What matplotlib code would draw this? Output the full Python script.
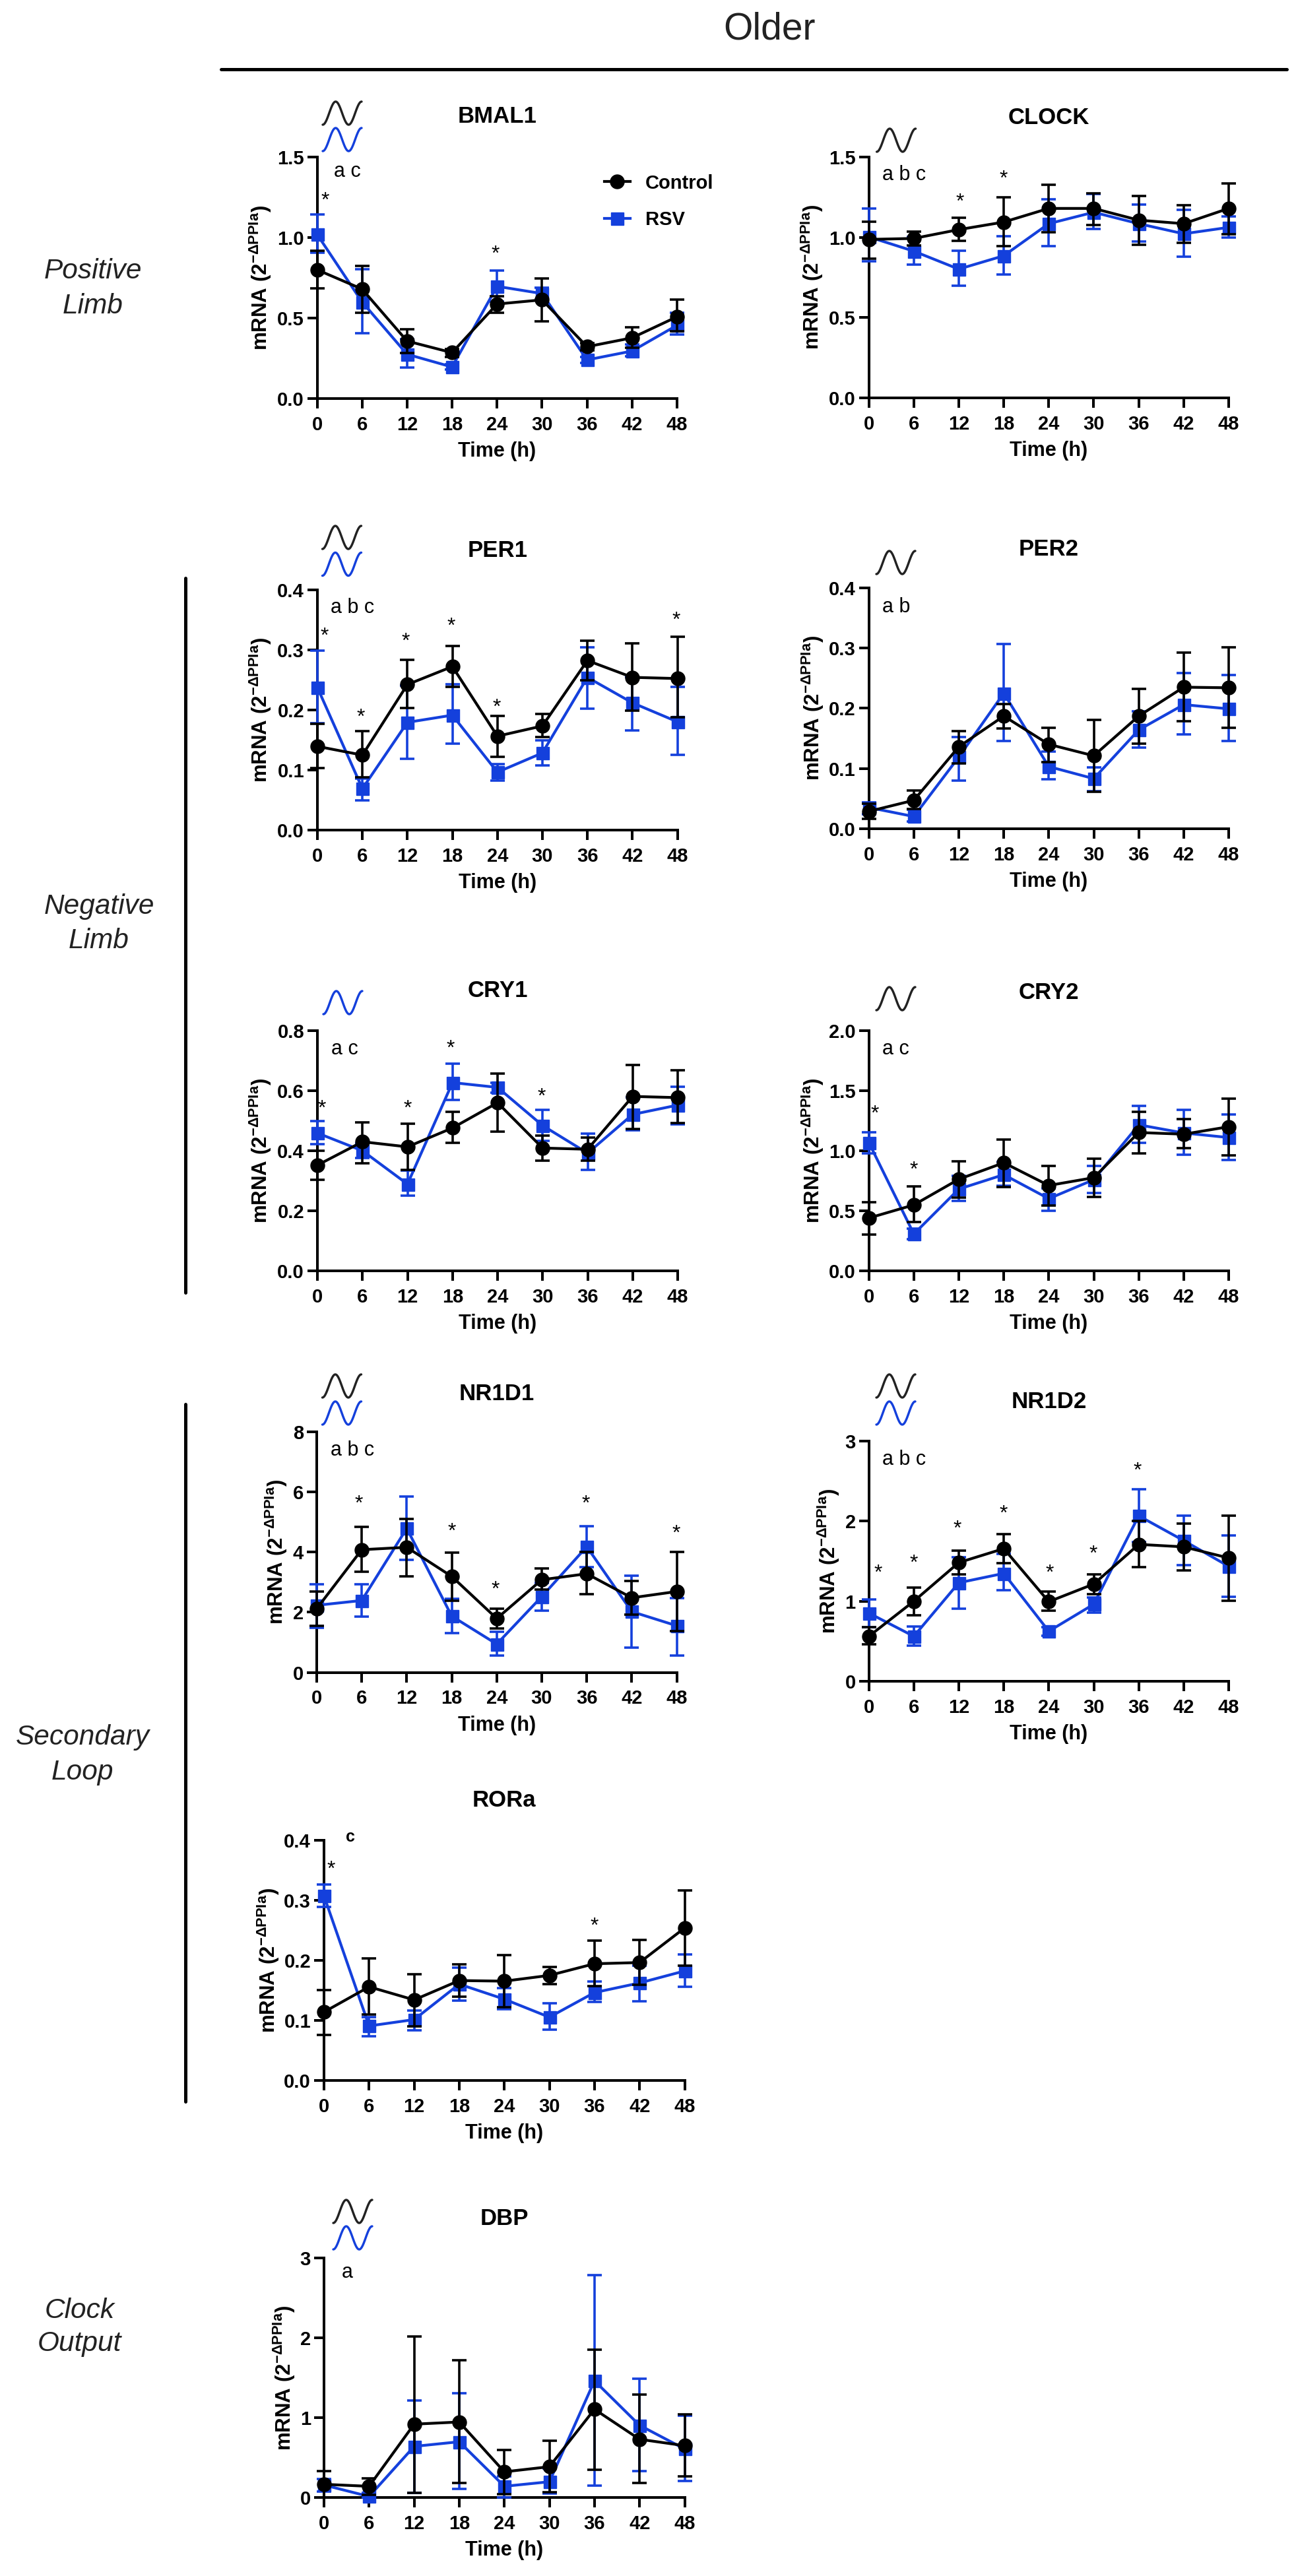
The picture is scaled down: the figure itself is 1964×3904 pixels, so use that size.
import numpy as np
import matplotlib
matplotlib.use("Agg")
import matplotlib.pyplot as plt
from matplotlib.lines import Line2D

plt.rcParams['font.family'] = ['Liberation Sans', 'DejaVu Sans']
plt.rcParams['mathtext.fontset'] = 'custom'
plt.rcParams['mathtext.bf'] = 'Liberation Sans:bold'
plt.rcParams['mathtext.rm'] = 'Liberation Sans:bold'
plt.rcParams['mathtext.default'] = 'bf'

W, H = 1964, 3904
BLACK, BLUE = '#000000', '#1440DC'

hours = [0, 6, 12, 18, 24, 30, 36, 42, 48]

bmal1_c = [.80, .68, .357, .285, .587, .613, .322, .377, .508]
bmal1_c_hi = [.917, .823, .432, .308, .636, .746, .345, .442, .613]
bmal1_c_lo = [.685, .534, .283, .26, .534, .481, .30, .314, .42]
bmal1_r = [1.02, .60, .275, .196, .697, .652, .24, .295, .455]
bmal1_r_hi = [1.143, .803, .367, .215, .795, .687, .26, .338, .534]
bmal1_r_lo = [.907, .406, .194, .18, .603, .613, .22, .263, .397]

clock_c = [.987, .993, 1.048, 1.095, 1.18, 1.18, 1.107, 1.085, 1.18]
clock_c_hi = [1.097, 1.036, 1.12, 1.248, 1.327, 1.274, 1.258, 1.199, 1.337]
clock_c_lo = [.869, .948, .979, .944, 1.032, 1.077, .953, .967, 1.018]
clock_r = [1.003, .914, .802, .885, 1.085, 1.156, 1.085, 1.022, 1.062]
clock_r_hi = [1.18, 1.003, .918, 1.006, 1.235, 1.268, 1.203, 1.17, 1.13]
clock_r_lo = [.849, .83, .698, .767, .944, 1.052, .973, .881, .999]

per1_c = [.139, .1245, .242, .272, .156, .173, .282, .254, .252]
per1_c_hi = [.176, .164, .283, .306, .19, .193, .315, .311, .322]
per1_c_lo = [.103, .087, .203, .238, .122, .155, .249, .198, .187]
per1_r = [.237, .0686, .179, .191, .096, .128, .254, .2116, .18]
per1_r_hi = [.298, .085, .24, .242, .11, .149, .304, .255, .238]
per1_r_lo = [.178, .049, .118, .144, .082, .107, .202, .166, .125]

per2_c = [.0286, .047, .136, .187, .14, .121, .187, .235, .234]
per2_c_hi = [.041, .063, .162, .207, .168, .181, .232, .293, .301]
per2_c_lo = [.016, .033, .108, .166, .11, .061, .141, .178, .168]
per2_r = [.035, .02, .119, .225, .103, .083, .164, .206, .199]
per2_r_hi = [.044, .031, .152, .307, .128, .102, .195, .258, .255]
per2_r_lo = [.024, .012, .08, .145, .082, .062, .135, .156, .145]

cry1_c = [.352, .43, .413, .476, .56, .409, .405, .581, .577]
cry1_c_hi = [.399, .495, .491, .529, .657, .451, .445, .686, .668]
cry1_c_lo = [.304, .358, .337, .426, .463, .368, .367, .472, .493]
cry1_r = [.459, .40, .289, .627, .611, .484, .392, .521, .552]
cry1_r_hi = [.499, .425, .333, .69, .627, .537, .457, .577, .613]
cry1_r_lo = [.421, .375, .251, .569, .594, .434, .336, .468, .489]

cry2_c = [.44, .549, .763, .90, .711, .776, 1.152, 1.138, 1.2]
cry2_c_hi = [.574, .702, .911, 1.096, .875, .934, 1.323, 1.264, 1.436]
cry2_c_lo = [.303, .406, .612, .70, .545, .616, .98, 1.022, .963]
cry2_r = [1.068, .307, .681, .801, .601, .759, 1.216, 1.148, 1.11]
cry2_r_hi = [1.152, .35, .79, .906, .686, .875, 1.373, 1.342, 1.302]
cry2_r_lo = [.98, .265, .58, .707, .50, .648, 1.064, .965, .921]

nr1d1_c = [2.12, 4.08, 4.16, 3.19, 1.79, 3.08, 3.28, 2.48, 2.69]
nr1d1_c_hi = [2.69, 4.83, 5.11, 3.99, 2.12, 3.45, 4.01, 3.03, 4.01]
nr1d1_c_lo = [1.55, 3.34, 3.19, 2.39, 1.47, 2.76, 2.6, 1.91, 1.37]
nr1d1_r = [2.23, 2.39, 4.79, 1.87, .94, 2.52, 4.18, 2.02, 1.55]
nr1d1_r_hi = [2.94, 2.94, 5.86, 2.44, 1.36, 2.98, 4.87, 3.21, 2.48]
nr1d1_r_lo = [1.49, 1.85, 3.74, 1.30, .55, 2.06, 3.49, .82, .57]

nr1d2_c = [.561, .999, 1.481, 1.655, .993, 1.213, 1.708, 1.677, 1.538]
nr1d2_c_hi = [.678, 1.172, 1.632, 1.834, 1.119, 1.33, 2.0, 1.97, 2.064]
nr1d2_c_lo = [.457, .826, 1.333, 1.472, .882, 1.087, 1.424, 1.38, 1.002]
nr1d2_r = [.851, .561, 1.229, 1.346, .624, .961, 2.064, 1.755, 1.434]
nr1d2_r_hi = [1.024, .684, 1.544, 1.585, .678, 1.046, 2.395, 2.064, 1.822]
nr1d2_r_lo = [.678, .441, .908, 1.135, .567, .857, 1.733, 1.45, 1.056]

rora_c = [.1136, .1556, .1338, .166, .165, .1746, .194, .196, .2536]
rora_c_hi = [.15, .203, .177, .193, .208, .189, .233, .234, .316]
rora_c_lo = [.0757, .109, .09, .139, .122, .16, .157, .159, .191]
rora_r = [.307, .0904, .101, .16, .135, .105, .146, .162, .182]
rora_r_hi = [.326, .105, .1157, .187, .1535, .128, .164, .191, .209]
rora_r_lo = [.289, .0736, .083, .133, .118, .0837, .13, .1317, .1556]

dbp_c = [.168, .143, .92, .947, .324, .388, 1.106, .731, .651]
dbp_c_hi = [.334, .245, 2.02, 1.716, .597, .709, 1.853, 1.293, 1.039]
dbp_c_lo = [.005, .04, .064, .181, .048, .07, .35, .184, .27]
dbp_r = [.159, .016, .642, .70, .143, .2, 1.462, .906, .61]
dbp_r_hi = [.238, .064, 1.214, 1.303, .27, .365, 2.787, 1.484, 1.03]
dbp_r_lo = [.08, 0.0, .064, .111, .006, .054, .149, .334, .213]

yt_15 = [0.0, 0.5, 1.0, 1.5]
yt_04 = [0.0, 0.1, 0.2, 0.3, 0.4]
yt_08 = [0.0, 0.2, 0.4, 0.6, 0.8]
yt_20 = [0.0, 0.5, 1.0, 1.5, 2.0]
yt_8 = [0, 2, 4, 6, 8]
yt_3 = [0, 1, 2, 3]

stars_bmal1 = [(1.05, 1.237), (23.8, .907)]
stars_clock = [(12.2, 1.229), (18, 1.372)]
stars_per1 = [(.95, .325), (5.8, .19), (11.8, .316), (17.8, .341), (23.9, .2065), (47.8, .351)]
stars_per2 = []
stars_cry1 = [(.6, .546), (12, .546), (17.7, .745), (29.9, .584)]
stars_cry2 = [(.8, 1.32), (6, .854)]
stars_nr1d1 = [(5.6, 5.65), (18, 4.73), (23.8, 2.8), (35.9, 5.65), (47.9, 4.66)]
stars_nr1d2 = [(1.2, 1.37), (6, 1.49), (11.8, 1.92), (18, 2.11), (24.1, 1.37), (29.9, 1.607), (35.8, 2.647)]
stars_rora = [(.9, .354), (36, .2587)]
stars_dbp = []

# name, left, right, top, bottom px, y ticks, fmt, series, stars, letters, letter dx, letter dy, title y, ylabel offset
panels = [
 ('BMAL1', 480.5, 1026, 238, 604, yt_15, '%.1f', (bmal1_c, bmal1_c_hi, bmal1_c_lo, bmal1_r, bmal1_r_hi, bmal1_r_lo), stars_bmal1, 'a c', 25, 22, 177, 86),
 ('CLOCK', 1316.5, 1862, 238, 603, yt_15, '%.1f', (clock_c, clock_c_hi, clock_c_lo, clock_r, clock_r_hi, clock_r_lo), stars_clock, 'a b c', 20.5, 27, 178, 86),
 ('PER1', 481, 1026.5, 893.7, 1257.6, yt_04, '%.1f', (per1_c, per1_c_hi, per1_c_lo, per1_r, per1_r_hi, per1_r_lo), stars_per1, 'a b c', 20, 27, 835, 86),
 ('PER2', 1316.7, 1862, 891, 1255.7, yt_04, '%.1f', (per2_c, per2_c_hi, per2_c_lo, per2_r, per2_r_hi, per2_r_lo), stars_per2, 'a b', 20, 29, 832, 85),
 ('CRY1', 481, 1027, 1562, 1926, yt_08, '%.1f', (cry1_c, cry1_c_hi, cry1_c_lo, cry1_r, cry1_r_hi, cry1_r_lo), stars_cry1, 'a c', 21, 28, 1502, 86),
 ('CRY2', 1316.7, 1862, 1562, 1926, yt_20, '%.1f', (cry2_c, cry2_c_hi, cry2_c_lo, cry2_r, cry2_r_hi, cry2_r_lo), stars_cry2, 'a c', 20, 28, 1505, 85),
 ('NR1D1', 480, 1025.6, 2170, 2534.5, yt_8, '%d', (nr1d1_c, nr1d1_c_hi, nr1d1_c_lo, nr1d1_r, nr1d1_r_hi, nr1d1_r_lo), stars_nr1d1, 'a b c', 21, 28, 2112, 61),
 ('NR1D2', 1316.7, 1862, 2183.6, 2548, yt_3, '%d', (nr1d2_c, nr1d2_c_hi, nr1d2_c_lo, nr1d2_r, nr1d2_r_hi, nr1d2_r_lo), stars_nr1d2, 'a b c', 20, 28, 2125, 60.6),
 ('RORa', 491, 1037.5, 2788.7, 3152.6, yt_04, '%.1f', (rora_c, rora_c_hi, rora_c_lo, rora_r, rora_r_hi, rora_r_lo), stars_rora, 'c', 33, -5, 2729, 84),
 ('DBP', 491, 1037.5, 3421.7, 3785.4, yt_3, '%d', (dbp_c, dbp_c_hi, dbp_c_lo, dbp_r, dbp_r_hi, dbp_r_lo), stars_dbp, 'a', 27, 22, 3362, 60.5),
]

PX = 0.72  # points per pixel at 100 dpi
fig = plt.figure(figsize=(W / 100, H / 100), dpi=100, facecolor='white')


def ftext(x, y, s, **kw):
    fig.text(x / W, 1 - y / H, s, **kw)


def fline(x0, y0, x1, y1, lw, color='black'):
    fig.add_artist(Line2D([x0 / W, x1 / W], [1 - y0 / H, 1 - y1 / H], lw=lw * PX, color=color,
                          solid_capstyle='round'))


def wave(left, top, color, w=59, h=35):
    t = np.linspace(0, 1, 120)
    xs = left + w * t
    ys = top + h / 2 + h / 2 * np.cos(3 * np.pi * t)
    fig.add_artist(Line2D(xs / W, 1 - ys / H, lw=3.4 * PX, color=color, solid_capstyle='round'))


for (name, l, r, t, b, yt, fmt, series, stars, letters, ldx, ldy, ty, ylo) in panels:
    ax = fig.add_axes([l / W, 1 - b / H, (r - l) / W, (b - t) / H])
    c, c_hi, c_lo, s, s_hi, s_lo = [np.array(v, float) for v in series]
    handles = []
    for m, hi, lo, col, mk, ms, z, lab in (
        (s, s_hi, s_lo, BLUE, 's', 19, 3, 'RSV'),
        (c, c_hi, c_lo, BLACK, 'o', 21, 4, 'Control')):
        cont = ax.errorbar(hours, m, yerr=[m - lo, hi - m], color=col, marker=mk, ms=ms * PX, lw=4.2 * PX,
                           elinewidth=3.6 * PX, capsize=11.5 * PX, capthick=3.6 * PX, zorder=z, label=lab)
        cont[0].set_clip_on(False)
        for art in list(cont[1]) + list(cont[2]):
            art.set_clip_on(False)
        handles.append(cont[0])
    ax.set_xlim(0, 48)
    ax.set_ylim(0, yt[-1])
    ax.set_xticks(hours)
    ax.set_yticks(yt)
    ax.set_yticklabels([fmt % v for v in yt])
    for sp in ('top', 'right'):
        ax.spines[sp].set_visible(False)
    for sp in ('left', 'bottom'):
        ax.spines[sp].set_linewidth(4 * PX)
    ax.tick_params(axis='both', length=15 * PX, width=4 * PX, labelsize=21)
    ax.tick_params(axis='x', pad=11 * PX)
    ax.tick_params(axis='y', pad=5 * PX)
    for lb in ax.get_xticklabels() + ax.get_yticklabels():
        lb.set_fontweight('bold')
    ax.set_xlabel('Time (h)', fontsize=22, fontweight='bold', va='center')
    ax.xaxis.set_label_coords(0.5, -80 / (b - t))
    ax.set_ylabel(r'mRNA (2$^{\mathbf{-\Delta PPIa}}$)', fontsize=22.5, fontweight='bold', va='center')
    ax.yaxis.set_label_coords(-ylo / (r - l), 0.5)
    ftext((l + r) / 2, ty, name, fontsize=25, fontweight='bold', ha='center', va='center')
    ftext(l + ldx, t + ldy, letters, fontsize=18 if name == 'RORa' else 22,
          fontweight='bold' if name == 'RORa' else 'normal', ha='left', va='center')
    for sx, sy in stars:
        ax.annotate('*', xy=(sx, sy), xytext=(0, -11 * PX), textcoords='offset points', fontsize=23,
                    ha='center', va='baseline', annotation_clip=False, zorder=6)
    if name == 'BMAL1':
        leg = ax.legend(handles[::-1], ['Control', 'RSV'], loc='center left', frameon=False,
                        prop={'size': 21, 'weight': 'bold'}, handlelength=1.37, handletextpad=0.76,
                        labelspacing=0.95, borderpad=0, borderaxespad=0,
                        bbox_to_anchor=((915.5 - l) / (r - l), (b - 305.5) / (b - t)))

# Rhythm glyphs
wave(489, 154, '#222222'); wave(489, 194, BLUE)
wave(1328.6, 195, '#222222')
wave(488.5, 797, '#222222'); wave(488.5, 837.5, BLUE)
wave(1328, 835, '#222222')
wave(490, 1502, BLUE)
wave(1328, 1496, '#222222')
wave(488.5, 2083, '#222222'); wave(488.5, 2124, BLUE)
wave(1328, 2083, '#222222'); wave(1328, 2124, BLUE)
wave(505, 3334, '#222222'); wave(505, 3374, BLUE)

# Header and group annotations
ftext(1166, 45, 'Older', fontsize=41, ha='center', va='center', color='#222222')
fline(335, 105, 1950, 105, 5)
fline(281, 876, 281, 1959, 5)
fline(281, 2128, 281, 3185, 5)
for cx, y1, y2, a, b_ in [(141, 422.5, 474.6, 'Positive', 'Limb'), (150, 1385, 1436.6, 'Negative', 'Limb'),
                          (125, 2644, 2697, 'Secondary', 'Loop'), (120.7, 3513, 3563, 'Clock', 'Output')]:
    ftext(cx, y1, a, fontsize=30.5, style='italic', ha='center', va='baseline', color='#222222')
    ftext(cx, y2, b_, fontsize=30.5, style='italic', ha='center', va='baseline', color='#222222')

fig.savefig('out.png', dpi=100, facecolor='white')
